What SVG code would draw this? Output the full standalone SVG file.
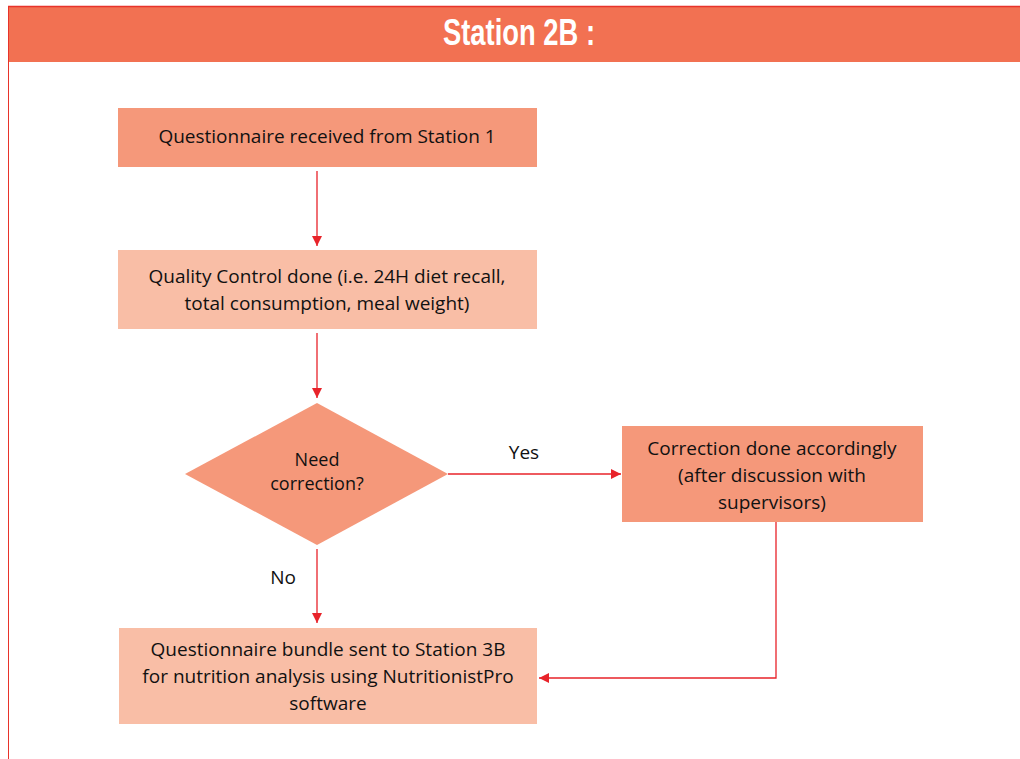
<svg xmlns="http://www.w3.org/2000/svg" width="1020" height="759" viewBox="0 0 1020 759">
  <style>
    .lbl { font-family: "Open Sans", "Liberation Sans", sans-serif; font-size: 19px; fill: #111; text-anchor: middle; }
    .small { font-size: 18px; }
    .dark { fill: #F5987A; }
    .light { fill: #F9BEA6; }
    .conn { fill: none; stroke: #E8232A; stroke-width: 1.3; marker-end: url(#arrow); }
  </style>
  <defs>
    <marker id="arrow" viewBox="0 0 10 10" refX="10" refY="5" markerWidth="10" markerHeight="10" markerUnits="userSpaceOnUse" orient="auto">
      <path d="M0,0 L10,5 L0,10 z" fill="#E8232A"/>
    </marker>
  </defs>

  <rect x="0" y="0" width="1020" height="759" fill="#ffffff"/>

  <!-- page frame and header band -->
  <g id="header">
    <rect x="8" y="6" width="1012" height="56" fill="#F27152"/>
    <line x1="8" y1="6.5" x2="1020" y2="6.5" stroke="#E8332A" stroke-width="1.5"/>
    <line x1="8.5" y1="6" x2="8.5" y2="759" stroke="#E8332A" stroke-width="1"/>
    <text x="519" y="45" font-family="Liberation Sans, Arial, sans-serif" font-weight="bold" font-size="36" fill="#ffffff" text-anchor="middle" textLength="152" lengthAdjust="spacingAndGlyphs">Station 2B :</text>
  </g>

  <g id="received">
    <rect class="dark" x="118" y="108" width="419" height="59"/>
    <text class="lbl" x="327" y="143">Questionnaire received from Station 1</text>
  </g>

  <g id="quality-control">
    <rect class="light" x="118" y="250" width="419" height="79"/>
    <text class="lbl" x="327" y="283">Quality Control done (i.e. 24H diet recall,</text>
    <text class="lbl" x="327" y="310">total consumption, meal weight)</text>
  </g>

  <g id="decision">
    <polygon class="dark" points="317,403 448,474 317,545 185,474"/>
    <text class="lbl small" x="317" y="466">Need</text>
    <text class="lbl small" x="317" y="490">correction?</text>
  </g>

  <g id="correction">
    <rect class="dark" x="622" y="426" width="301" height="96"/>
    <text class="lbl" x="772" y="455">Correction done accordingly</text>
    <text class="lbl" x="772" y="482">(after discussion with</text>
    <text class="lbl" x="772" y="509">supervisors)</text>
  </g>

  <g id="bundle-sent">
    <rect class="light" x="119" y="628" width="418" height="96"/>
    <text class="lbl" x="328" y="656">Questionnaire bundle sent to Station 3B</text>
    <text class="lbl" x="328" y="683">for nutrition analysis using NutritionistPro</text>
    <text class="lbl" x="328" y="710">software</text>
  </g>

  <g id="connectors">
    <line class="conn" x1="317" y1="171" x2="317" y2="246"/>
    <line class="conn" x1="317" y1="333" x2="317" y2="398"/>
    <line class="conn" x1="448" y1="474" x2="621" y2="474"/>
    <line class="conn" x1="317" y1="549" x2="317" y2="623"/>
    <polyline class="conn" points="776,522 776,678 539,678"/>
    <text class="lbl" x="524" y="459">Yes</text>
    <text class="lbl" x="283" y="584">No</text>
  </g>
</svg>
